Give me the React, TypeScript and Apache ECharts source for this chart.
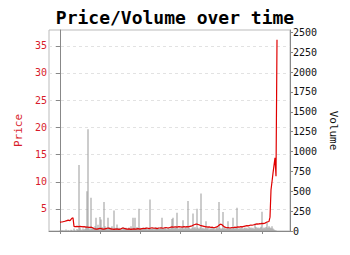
import React, { useEffect, useRef } from "react";
import * as echarts from "echarts";

// Day index 0 = first trading day shown
const price: number[] = [
  2.55, 2.6, 2.6, 2.65, 2.7, 2.75, 2.8, 2.85, 2.95, 2.9, 2.85, 3.1, 3.3, 3.35,
  1.8, 1.75, 1.75, 1.8, 1.75, 1.75, 1.8, 1.75, 1.75, 1.7, 1.75, 1.7, 1.65, 1.65,
  1.65, 1.6, 1.6, 1.65, 1.6, 1.5, 1.4,
  1.35, 1.3, 1.3, 1.35, 1.4, 1.45, 1.4, 1.35, 1.3, 1.3,
  1.35, 1.4, 1.45, 1.5, 1.45, 1.4, 1.35, 1.3, 1.3, 1.25,
  1.3, 1.3, 1.35, 1.3, 1.25, 1.3, 1.35, 1.45, 1.5, 1.45,
  1.4, 1.35, 1.3, 1.3, 1.35, 1.3, 1.25, 1.3, 1.3, 1.35,
  1.3, 1.3, 1.35, 1.4, 1.35, 1.3,
  1.35, 1.4, 1.4, 1.45, 1.4, 1.45, 1.5, 1.45, 1.4, 1.45,
  1.5, 1.55, 1.5, 1.45, 1.5, 1.45, 1.4, 1.45, 1.5, 1.5,
  1.55, 1.5, 1.45, 1.5, 1.55, 1.6, 1.55, 1.5, 1.55, 1.6,
  1.65, 1.7, 1.65, 1.65, 1.7, 1.7, 1.65, 1.7, 1.75, 1.7,
  1.7, 1.65, 1.7, 1.75, 1.7, 1.7, 1.75, 1.7, 1.75, 1.8,
  1.85, 1.9, 2.0, 2.1, 2.15,
  2.2, 2.2, 2.15, 2.1, 2.0, 1.95, 1.9, 1.85, 1.8, 1.75, 1.7, 1.7, 1.65, 1.7, 1.65,
  1.6, 1.65, 1.6, 1.55, 1.6, 1.65, 1.7, 1.85, 2.0,
  2.15, 2.2, 2.1, 1.9, 1.75,
  1.65, 1.6, 1.55, 1.6, 1.55, 1.5, 1.55, 1.6, 1.55, 1.6, 1.65, 1.6, 1.65, 1.7, 1.65, 1.7, 1.75, 1.7, 1.75, 1.8, 1.85,
  1.9, 1.95, 1.9, 1.95, 2.0, 2.05, 2.0, 2.05, 2.1, 2.15,
  2.2, 2.25, 2.2, 2.3, 2.25, 2.3, 2.35, 2.3, 2.35, 2.4,
  2.5, 2.6, 2.65, 2.7, 3.5, 8.5, 10.0, 11.6, 13.0, 14.4, 11.0, 36.1,
];

const volume: number[] = [
  5, 0, 12, 0, 8, 0, 20, 0, 10, 5,
  0, 15, 8, 0, 30, 10, 0, 25, 15, 830,
  40, 20, 10, 30, 15, 25, 60, 500, 1280, 35,
  20, 420, 30, 45, 25, 60, 167, 40, 80, 30,
  175, 145, 50, 30, 364, 60, 40, 25, 167, 50,
  30, 45, 60, 20, 259, 40, 30, 82, 25, 40,
  20, 35, 15, 50, 30, 25, 40, 20, 30, 45,
  25, 60, 30, 167, 40, 167, 30, 50, 25, 280,
  40, 30, 20, 45, 25, 35, 50, 30, 20, 40,
  398, 30, 25, 40, 20, 35, 50, 30, 45, 25,
  30, 40, 167, 35, 25, 50, 30, 20, 40, 35,
  25, 45, 150, 167, 30, 40, 50, 230, 35, 25,
  40, 30, 45, 136, 25, 40, 50, 30, 377, 45,
  30, 25, 40, 221, 35, 50, 30, 280, 40, 25,
  45, 473, 30, 40, 25, 35, 124, 30, 45, 20,
  35, 25, 40, 30, 50, 20, 35, 45, 30, 364,
  40, 25, 35, 238, 30, 45, 25, 40, 124, 35,
  30, 45, 25, 167, 40, 30, 50, 293, 35, 25,
  40, 30, 50, 25, 35, 45, 30, 40, 25, 50,
  35, 45, 30, 40, 25, 95, 50, 35, 45, 30,
  40, 55, 242, 30, 45, 35, 50, 111, 40, 60,
  45, 35, 60, 30, 20, 10, 5, 0,
];

const days: number[] = price.map((_, i) => i);
const dateTicks: number[] = [0, 40, 80, 120, 161, 202];
const priceTicks: number[] = [5, 10, 15, 20, 25, 30, 35];
const volumeTicks: number[] = [0, 250, 500, 750, 1000, 1250, 1500, 1750, 2000, 2250, 2500];

const FONT = "DejaVu Sans Mono";
const RED = "#d81b2b";

export default function App() {
  const ref = useRef<HTMLDivElement>(null);
  useEffect(() => {
    if (!ref.current) return;
    const chart = echarts.init(ref.current, null, { renderer: "svg" });
    chart.setOption({
      animation: false,
      title: {
        text: "Price/Volume over time",
        left: "center",
        top: 3,
        textStyle: { fontFamily: FONT, fontSize: 18, fontWeight: "bold", color: "#000" },
      },
      grid: {
        left: 49,
        right: 60,
        top: 30,
        bottom: 24,
        containLabel: false,
        outerBoundsMode: "none",
        show: true,
        borderColor: "#bbb",
        borderWidth: 1,
        backgroundColor: "transparent",
      },
      xAxis: {
        type: "value",
        min: -11,
        max: 230,
        axisLine: { show: true, lineStyle: { color: "#888", width: 1 } },
        axisTick: { show: true, length: 3, customValues: dateTicks, lineStyle: { color: "#888" } },
        axisLabel: { show: false },
        splitLine: { show: false },
      },
      yAxis: [
        {
          type: "value",
          position: "left",
          min: 0.95,
          max: 37.9,
          name: "Price",
          nameLocation: "middle",
          nameGap: 24,
          nameTextStyle: { fontFamily: FONT, fontSize: 11, color: RED },
          axisLine: { show: true, lineStyle: { color: "#888", width: 1 } },
          axisTick: { show: true, length: 4, customValues: priceTicks, lineStyle: { color: "#888" } },
          axisLabel: { customValues: priceTicks, fontFamily: FONT, fontSize: 10, color: RED, margin: 2 },
          splitLine: { show: true, lineStyle: { color: "#e2e2e2", type: [3, 3], width: 1 } },
        },
        {
          type: "value",
          position: "right",
          min: 0,
          max: 2530,
          name: "Volume",
          nameLocation: "middle",
          nameGap: 30,
          nameRotate: -90,
          nameTextStyle: { fontFamily: FONT, fontSize: 11, color: "#111" },
          axisLine: { show: true, lineStyle: { color: "#888", width: 1 } },
          axisTick: { show: true, length: 3, customValues: volumeTicks, lineStyle: { color: "#888" } },
          axisLabel: {
            customValues: volumeTicks,
            fontFamily: FONT,
            fontSize: 10,
            color: "#111",
            margin: 3,
            formatter: (v: number) => String(v),
          },
          splitLine: { show: false },
        },
      ],
      series: [
        {
          type: "bar",
          yAxisIndex: 1,
          barWidth: 1,
          itemStyle: { color: "#9a9a9a" },
          data: days.map((d, i) => [d, volume[i]]),
          z: 1,
        },
        {
          type: "line",
          yAxisIndex: 0,
          showSymbol: false,
          symbol: "none",
          lineStyle: { color: "#e00000", width: 1.2 },
          data: days.map((d, i) => [d, price[i]]),
          z: 3,
        },
      ],
    });
    return () => chart.dispose();
  }, []);
  return (
    <div
      ref={ref}
      style={{ position: "absolute", left: 0, top: 0, width: 350, height: 255 }}
    />
  );
}
